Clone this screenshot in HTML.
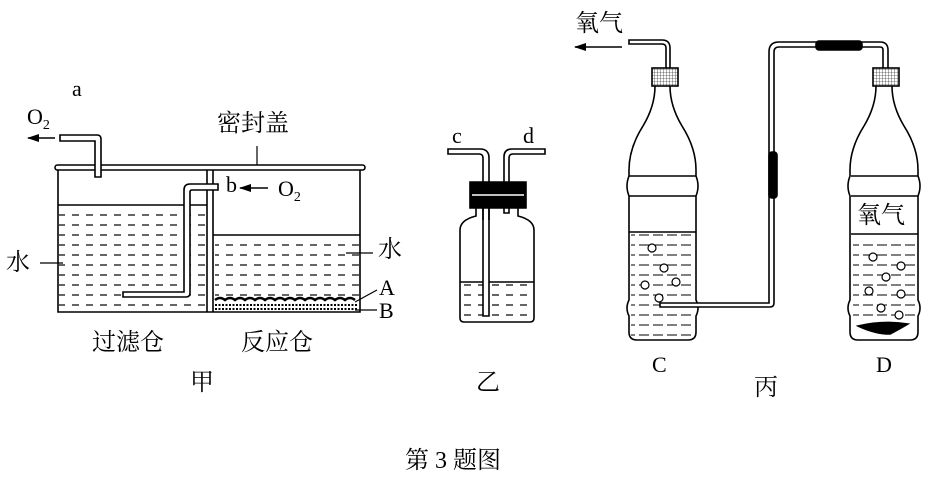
<!DOCTYPE html>
<html><head><meta charset="utf-8"><style>
html,body{margin:0;padding:0;background:#fff}
svg{display:block}
text{font-family:"Liberation Serif","Noto Serif CJK SC",serif;fill:#000}
.cj{font-family:"Liberation Serif","Noto Serif CJK SC",serif}
</style></head><body>
<svg width="927" height="478" viewBox="0 0 927 478" xmlns="http://www.w3.org/2000/svg">
<defs>
<marker id="ar" markerWidth="12" markerHeight="8" refX="11" refY="4" orient="auto" markerUnits="userSpaceOnUse">
<path d="M0,0 L12,4 L0,8 z" fill="#000"/></marker>
<pattern id="dash" width="14" height="10" patternUnits="userSpaceOnUse"><line x1="2" y1="5" x2="9" y2="5" stroke="#000" stroke-width="1.2"/></pattern>
<pattern id="dash2" width="14" height="10" x="7" patternUnits="userSpaceOnUse"><line x1="2" y1="5" x2="12" y2="5" stroke="#000" stroke-width="1"/></pattern>
<pattern id="hatch" width="3" height="3" patternUnits="userSpaceOnUse"><rect width="3" height="3" fill="#fff"/><path d="M0,0 H3 M0,0 V3" stroke="#000" stroke-width="0.6"/></pattern>
</defs>
<g fill="none" stroke="#000" stroke-width="1.6">
<!-- 甲 -->
<rect x="55" y="165" width="310" height="5" rx="2.5"/>
<path d="M58,170 V312 H360 V170"/>
<path d="M207,170 V312 M213,170 V312"/>
<rect x="59" y="206" width="147" height="104" fill="url(#dash)" stroke="none"/>
<line x1="58" y1="205" x2="207" y2="205"/>
<rect x="215" y="236" width="144" height="62" fill="url(#dash)" stroke="none"/>
<line x1="213" y1="235" x2="360" y2="235"/>
<path d="M215,300 q5,-4 10,0 q5,-4 10,0 q5,-4 10,0 q5,-4 10,0 q5,-4 10,0 q5,-4 10,0 q5,-4 10,0 q5,-4 10,0 q5,-4 10,0 q5,-4 10,0 q5,-4 10,0 q5,-4 10,0 q5,-4 10,0 q5,-4 10,0" stroke-width="2.5"/>
<path d="M215,305 H358 M215,309 H358" stroke-dasharray="2,1.5" stroke-width="2"/>
<!-- tube a -->
<path d="M60,135 H97 q4,0 4,4 V177 H95 V141 H60 z" fill="#fff"/>
<line x1="55" y1="138" x2="28" y2="138" marker-end="url(#ar)"/>
<!-- tube b -->
<path d="M218,184 H190 q-6,0 -6,6 V292 H123 V297 H186 q4,0 4,-4 V192 q0,-2 2,-2 H218 z" fill="#fff"/>
<line x1="268" y1="188" x2="240" y2="188" marker-end="url(#ar)"/>
<line x1="257" y1="146" x2="257" y2="165" stroke-width="1.2"/>
<line x1="40" y1="263" x2="63" y2="263" stroke-width="1.2"/>
<line x1="346" y1="253" x2="373" y2="253" stroke-width="1.2"/>
<line x1="355" y1="302" x2="377" y2="290" stroke-width="1.2"/>
<line x1="355" y1="310" x2="377" y2="310" stroke-width="1.2"/>
<!-- 乙 -->
<path d="M476,208 V216 q-16,4 -16,14 V318 q0,4 4,4 H530 q4,0 4,-4 V230 q0,-10 -16,-14 V208"/>
<rect x="461" y="283" width="71" height="36" fill="url(#dash)" stroke="none"/>
<line x1="460" y1="282" x2="534" y2="282"/>
<path d="M448,154 H479 q4,0 4,4 V316 H489 V158 q0,-9 -9,-9 H448 z" fill="#fff"/>
<path d="M545,149 H512 q-8,0 -8,8 V213 H509 V158 q0,-4 4,-4 H545 z" fill="#fff"/>
<path d="M470,182 H526 V208 H470 z" fill="#000"/>
<line x1="472" y1="195" x2="524" y2="195" stroke="#fff" stroke-width="1.5"/>
<line x1="483" y1="208" x2="483" y2="220" /><line x1="489" y1="208" x2="489" y2="220"/>
<!-- 丙 C -->
<path d="M655,86 q0,20 -12,40 q-14,22 -14,44 v6 q-4,10 0,20 V300 q-4,8 0,16 V332 q0,8 8,8 H688 q8,0 8,-8 V316 q4,-8 0,-16 V196 q4,-10 0,-20 v-6 q0,-22 -14,-44 q-12,-20 -12,-40"/>
<path d="M629,176 H696 M629,196 H696"/>
<line x1="629" y1="232" x2="696" y2="232"/>
<rect x="631" y="234" width="64" height="104" fill="url(#dash2)" stroke="none"/>
<path d="M629,44 H662 q4,0 4,4 V80 H670 V48 q0,-8 -8,-8 H629 z" fill="#fff"/>
<rect x="652" y="68" width="26" height="18" fill="url(#hatch)"/>
<line x1="622" y1="47" x2="575" y2="47" marker-end="url(#ar)"/>
<!-- connector -->
<path d="M660,307 H770 q4,0 4,-4 V52 q0,-5 5,-5 H880 q3,0 3,3 V80 H888 V50 q0,-8 -8,-8 H779 q-10,0 -10,10 V303 H660 z" fill="#fff"/>
<rect x="769" y="152" width="8" height="46" fill="#000" rx="3"/>
<rect x="816" y="41" width="46" height="9" fill="#000" rx="3"/>
<!-- D -->
<path d="M876,86 q0,20 -12,40 q-14,22 -14,44 v6 q-4,10 0,20 V300 q-4,8 0,16 V332 q0,8 8,8 H910 q8,0 8,-8 V316 q4,-8 0,-16 V196 q4,-10 0,-20 v-6 q0,-22 -14,-44 q-12,-20 -12,-40"/>
<path d="M851,176 H918 M851,196 H918"/>
<line x1="851" y1="234" x2="918" y2="234"/>
<rect x="853" y="236" width="64" height="84" fill="url(#dash2)" stroke="none"/>
<rect x="873" y="68" width="26" height="18" fill="url(#hatch)"/>
<path d="M858,326 q25,-6 50,-2 q-10,6 -18,10 q-15,0 -32,-8z" fill="#000"/>
<g stroke-width="1.2" fill="#fff">
<circle cx="652" cy="248" r="4"/><circle cx="664" cy="268" r="4"/><circle cx="645" cy="285" r="4"/><circle cx="676" cy="282" r="4"/><circle cx="659" cy="298" r="4"/>
<circle cx="873" cy="257" r="4"/><circle cx="901" cy="266" r="4"/><circle cx="886" cy="277" r="4"/><circle cx="869" cy="291" r="4"/><circle cx="901" cy="294" r="4"/><circle cx="881" cy="308" r="4"/><circle cx="899" cy="315" r="4"/>
</g>
</g>
<!-- labels -->
<text x="72" y="96" font-size="22">a</text>
<text x="27" y="124" font-size="22">O<tspan font-size="14" dy="5">2</tspan></text>
<text x="217" y="131" font-size="24" class="cj">密封盖</text>
<text x="226" y="192" font-size="22">b</text>
<text x="278" y="196" font-size="22">O<tspan font-size="14" dy="5">2</tspan></text>
<text x="6" y="270" font-size="24" class="cj">水</text>
<text x="378" y="257" font-size="24" class="cj">水</text>
<text x="379" y="295" font-size="22">A</text>
<text x="379" y="318" font-size="22">B</text>
<text x="92" y="350" font-size="24" class="cj">过滤仓</text>
<text x="241" y="350" font-size="24" class="cj">反应仓</text>
<text x="190" y="390" font-size="24" class="cj">甲</text>
<text x="452" y="143" font-size="22">c</text>
<text x="523" y="143" font-size="22">d</text>
<text x="476" y="390" font-size="24" class="cj">乙</text>
<text x="575" y="31" font-size="24" class="cj">氧气</text>
<text x="857" y="223" font-size="24" class="cj">氧气</text>
<text x="652" y="372" font-size="22">C</text>
<text x="876" y="372" font-size="22">D</text>
<text x="754" y="395" font-size="24" class="cj">丙</text>
<text x="405" y="468" font-size="24" class="cj">第 3 题图</text>
</svg>
</body></html>
